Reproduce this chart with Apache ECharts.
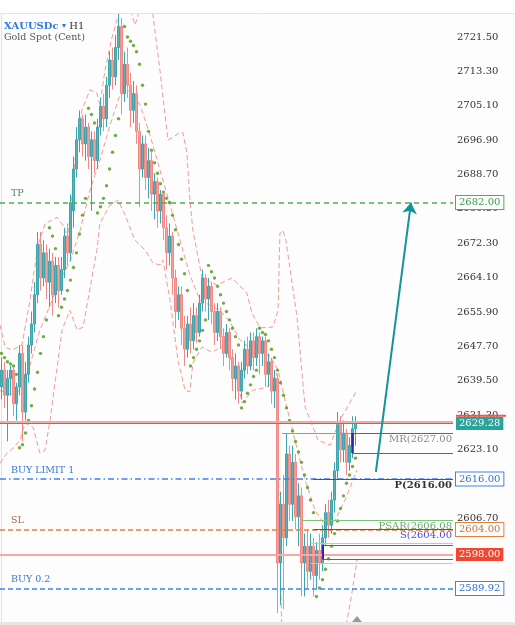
<!DOCTYPE html>
<html>
<head>
<meta charset="utf-8">
<script src="https://cdn.jsdelivr.net/npm/echarts@6/dist/echarts.min.js"></script>
<style>
  html, body { margin: 0; padding: 0; background: #fff; }
  #chart { width: 515px; height: 625px; }
</style>
</head>
<body>
<div id="chart"></div>
<script>
// XAUUSDc H1 candles, [open, close, low, high]
var candles = [
  [2638,2642,2635,2645],[2642,2636,2633,2644],[2636,2640,2625,2642],[2640,2642,2636,2643],
  [2642,2634,2631,2642.5],[2634,2638,2630,2639],[2638,2646,2636,2648],[2646,2632,2625,2648],
  [2632,2641,2630,2644],[2641,2648,2639,2650],[2648,2653,2646,2656],[2653,2660,2651,2663],
  [2660,2672,2658,2675],[2672,2664,2661,2675],[2664,2670,2662,2673],[2670,2663,2659,2672],
  [2663,2668,2657,2671],[2668,2660,2655,2670],[2660,2667,2658,2669],[2667,2661,2657,2669],
  [2661,2666,2660,2669],[2666,2674,2664,2676],[2674,2670,2667,2677],[2670,2682,2668,2684],
  [2680,2690,2676,2693],[2690,2697,2688,2700],[2697,2702,2694,2704],[2702,2696,2693,2703],
  [2696,2700,2692,2703],[2700,2693,2690,2701],[2693,2697,2680,2699],[2697,2692,2689,2699],
  [2692,2700,2690,2702],[2700,2705,2698,2707],[2705,2702,2699,2708],[2702,2710,2700,2712],
  [2710,2716,2707,2718],[2716,2712,2709,2719],[2712,2719,2710,2722],[2719,2724,2716,2727],
  [2724,2708,2703,2726],[2708,2715,2706,2718],[2715,2710,2707,2719],[2710,2704,2700,2713],
  [2704,2708,2701,2711],[2708,2699,2696,2710],[2699,2690,2681,2701],[2690,2696,2688,2698],
  [2696,2688,2685,2698],[2688,2692,2683,2695],[2692,2684,2680,2694],[2684,2687,2678,2689],
  [2687,2680,2676,2688],[2680,2684,2677,2685],[2684,2676,2673,2684],[2676,2670,2666,2679],
  [2670,2674,2667,2677],[2674,2664,2660,2675],[2664,2656,2652,2666],[2656,2660,2654,2662],
  [2660,2652,2648,2662],[2652,2647,2643,2655],[2647,2653,2645,2655],[2653,2649,2646,2657],
  [2649,2655,2647,2658],[2655,2651,2648.5,2657],[2651,2658,2650,2660],[2658,2664,2656,2666],
  [2664,2659,2656,2665],[2659,2662,2654,2664],[2662,2656,2653,2663],[2656,2651,2648,2658],
  [2651,2656,2649,2658],[2656,2650,2647,2657],[2650,2646,2643,2652],[2646,2651,2645,2653],
  [2651,2645,2642,2652],[2645,2640,2637,2647],[2640,2643,2635,2646],[2643,2637,2634,2644],
  [2637,2642,2635,2644],[2642,2647,2640,2649],[2647,2643,2641,2650],[2643,2649,2642,2651],
  [2649,2645,2642,2651],[2645,2650,2643,2652],[2650,2646,2641,2651],[2646,2649,2643,2650],
  [2649,2641,2638,2650],[2641,2644,2638,2646],[2644,2637,2634,2645],[2637,2640,2633,2642],
  [2640,2596,2584,2641],[2596,2610,2586,2613],[2610,2602,2585,2617],[2602,2622,2600,2627],
  [2622,2610,2606,2624],[2610,2620,2606,2624],[2620,2607,2604,2622],[2607,2612,2600,2615],
  [2612,2596,2588,2614],[2596,2600,2588,2603],[2600,2594,2590,2604],[2594,2600,2592,2603],
  [2600,2593,2588,2602],[2593,2599,2590,2601],[2599,2596,2592,2603],[2596,2602,2594,2605],
  [2602,2608,2600,2610],[2608,2605,2602,2611],[2605,2611,2603,2613],[2611,2618,2608,2620],
  [2618,2629,2616,2632],[2629,2623,2620,2631],[2623,2627,2620,2630],[2627,2620,2617,2628],
  [2620,2624,2618,2626],[2624,2628,2621,2631],[2628,2629.28,2624,2631]
];

// parabolic SAR, one dot per candle
var psar = [
  2646,2645,2644,2643.5,2643,2641,
  2623.5,2624.2,2627,2630,2633.5,2637.5,2641.5,2646,2650,2654,
  2676,2674,2671,
  2655,2657,2659,2661,2663.5,2666.5,2670,2674.5,2679,2683,
  2704.5,2703,2701,
  2679.5,2681,2683,2686,2690,2694,2698,2702,
  2727.2,2724,2721.5,2720.5,2719.5,2718,2715,2710,2705.5,2699,2694.5,2691.5,2689,2686.5,2684.5,2683,2682,2679,2675.5,2672,2668.5,2665,2661,
  2643,2645,2647,2649,2651.5,2654,
  2667,2665.5,2664,2662,2660,2658,2656,2654,2652,2650,2648,
  2633,2634.5,2636.5,2638.5,2640.5,2642,
  2652,2651,2650.5,2649,2647,2645,2642,2639,2636,2633,2630,2627.5,2625,2622.5,2620,2617,2614,2611,2608,
  2588,2590,2592,2594.5,2597,2600,2603,2606,2609,2612,2615,2617,2619,2621
];

// bollinger bands, [candle index, price]
var bandUpper = [
  [-0.5,2652.8],[1.2,2647.5],[3.5,2646.8],[6.8,2648.0],[9.5,2658.7],[12.2,2671.9],[14.5,2676.9],
  [18.5,2678.5],[20.5,2676.6],[22.2,2673.5],[24.5,2692.1],[26.8,2704.1],[29.5,2708.9],[31.8,2708.1],
  [32.8,2705.3],[34.5,2713.6],[36.8,2721.3],[38.8,2726.3],[40.8,2730.3],[42.2,2732.7],[43.5,2726.7],
  [44.5,2724.4],[45.5,2726.7],[46.8,2731.5],[49.5,2731.5],[50.5,2726.7],[52.8,2713.6],[55.5,2696.9],
  [57.8,2697.9],[59.5,2698.8],[60.5,2698.6],[61.8,2693.8],[62.8,2682.6],[63.8,2675.4],[66.8,2664.2],
  [71.8,2662.3],[76.8,2664.0],[81.8,2660.4],[83.5,2655.6],[86.2,2652.1],[90.5,2652.3],[92.2,2656.3],
  [92.8,2674.7],[93.8,2675.4],[94.8,2673.0],[98.5,2654.7],[101.2,2633.2],[105.5,2625.3],[109.5,2624.1],
  [112.8,2630.1],[118.5,2637.2]
];
var bandMid = [
  [-0.5,2637.2],[2.8,2636.1],[6.2,2637.2],[9.5,2643.2],[12.8,2651.6],[16.2,2657.5],[19.5,2663.5],
  [22.8,2667.8],[26.2,2675.4],[29.5,2685.0],[32.8,2692.1],[36.2,2700.5],[39.5,2707.7],[42.8,2708.9],
  [46.2,2705.3],[49.5,2698.1],[52.8,2689.8],[56.2,2681.4],[59.5,2673.0],[62.8,2664.7],[66.2,2658.7],
  [69.5,2657.5],[72.8,2656.3],[76.2,2653.5],[79.5,2649.2],[82.8,2647.3],[86.2,2646.3],[89.5,2645.4],
  [92.2,2642.0],[94.5,2634.9],[97.8,2625.3],[101.2,2615.8],[104.5,2608.6],[107.8,2605.0],
  [111.2,2606.2],[114.5,2611.0],[118.5,2618.2]
];
var bandLower = [
  [-0.5,2619.8],[1.8,2622.2],[3.8,2623.4],[6.2,2625.3],[7.8,2629.4],[10.5,2628.4],[12.8,2622.2],
  [14.5,2622.9],[16.2,2630.1],[17.2,2635.6],[20.2,2651.6],[22.8,2656.3],[25.2,2651.6],[27.2,2652.3],
  [31.8,2670.7],[32.8,2677.1],[36.2,2681.4],[38.8,2682.6],[41.2,2679.0],[44.5,2673.0],[47.8,2670.7],
  [50.5,2667.6],[52.8,2667.1],[53.8,2668.3],[56.2,2658.7],[58.8,2644.4],[61.2,2637.2],[62.8,2636.8],
  [63.8,2643.7],[66.8,2647.5],[70.2,2646.3],[74.5,2648.0],[77.8,2642.0],[80.2,2634.2],[83.8,2637.2],
  [88.5,2637.9],[91.8,2641.3],[92.5,2611.0],[93.5,2577.6],[113.5,2577.6],[115.2,2582.3],
  [116.8,2588.8],[118.5,2596.7]
];

var yTicks = [2721.5,2713.3,2705.1,2696.9,2688.7,2680.5,2672.3,2664.1,2655.9,2647.7,
              2639.5,2631.3,2623.1,2614.9,2606.7,2598.5,2590.3];

var lastBid = 2629.28, lastAsk = 2629.7;
var takeProfit = 2682.00, buyLimit = 2616.00, stopLoss = 2604.00, redLevel = 2598.00, buyOrder = 2589.92;
// pivot levels: [value, first candle index]
var pivotMR = [2627.00, 93.5], pivotP = [2616.00, 103.8], psarLevel = [2606.08, 100], pivotS = [2604.00, 104];
// zones: [top, bottom, first candle index]
var zoneUpper = [2627.0, 2622.2, 117], zoneLower = [2600.3, 2596.9, 107], zoneLowerPink = [2600.8, 2596.0, 103];
var arrowFrom = [124.8, 2617.7], arrowTo = [136.5, 2682.0];

var xMax = 150.5;
var FONT = 'DejaVu Serif';

var chart = echarts.init(document.getElementById('chart'));

function priceBox(value, line, box) {
  return {
    yAxis: value,
    lineStyle: line,
    label: Object.assign({
      show: true, position: 'end', distance: 3,
      formatter: value.toFixed(2),
      fontFamily: FONT, fontSize: 10, padding: [2, 3, 1, 3]
    }, box)
  };
}
function leftTag(value, text, color) {
  return {
    yAxis: value,
    lineStyle: { color: 'rgba(0,0,0,0)', width: 1, type: 'solid' },
    label: {
      show: true, position: 'insideStartTop', formatter: text, color: color,
      fontFamily: FONT, fontSize: 9.5, padding: [0, 0, 1, 8], distance: 3
    }
  };
}
function pivotLine(level, text, color, textColor, bold) {
  return [
    { coord: [level[1], level[0]],
      lineStyle: { color: color, width: 1, type: 'solid' },
      label: { show: true, position: 'insideEndBottom', formatter: text, color: textColor,
               fontFamily: FONT, fontSize: 10, fontWeight: bold ? 'bold' : 'normal', distance: 1 } },
    { coord: [xMax, level[0]] }
  ];
}
function hline(v, from, color, width) {
  return [{ coord: [from, v], lineStyle: { color: color, width: width, type: 'solid' } }, { coord: [xMax, v] }];
}
function band(data, name) {
  return {
    name: name, type: 'line', data: data, showSymbol: false, silent: true, z: 1,
    lineStyle: { color: '#f39a93', width: 1, type: [5, 3] }
  };
}

var option = {
  backgroundColor: '#fdfdfd',
  animation: false,
  grid: { left: 0, right: 62, top: 14, bottom: 3 },
  xAxis: {
    type: 'value', min: -0.5, max: xMax,
    axisLine: { show: false }, axisTick: { show: false }, axisLabel: { show: false }, splitLine: { show: false }
  },
  yAxis: {
    type: 'value', position: 'right', min: 2581.9, max: 2727.0, scale: true,
    axisLine: { show: true, lineStyle: { color: '#e2e2e2' } },
    axisTick: { show: false },
    splitLine: { show: false },
    axisLabel: {
      customValues: yTicks, margin: 4, color: '#333', fontFamily: FONT, fontSize: 10,
      formatter: function (v) { return v.toFixed(2); }
    }
  },
  series: [
    band(bandUpper, 'upper'),
    band(bandMid, 'mid'),
    band(bandLower, 'lower'),
    {
      name: 'XAUUSDc', type: 'candlestick', barWidth: 1.6, z: 3,
      data: candles.map(function (c, i) { return [i, c[0], c[1], c[2], c[3]]; }),
      encode: { x: 0, y: [1, 2, 3, 4] },
      itemStyle: { color: '#58b3b9', color0: '#f59e9a', borderColor: '#3fa4ab', borderColor0: '#f08a86', borderWidth: 1 }
    },
    {
      name: 'PSAR', type: 'scatter', symbol: 'circle', symbolSize: 3.4, z: 4, silent: true,
      data: psar.map(function (v, i) { return [i, v]; }),
      itemStyle: { color: '#4c9a10' }
    },
    {
      // trade levels with price boxes on the axis
      type: 'line', data: [], z: 5,
      markLine: {
        silent: true, symbol: 'none', animation: false,
        data: [
          priceBox(takeProfit, { color: '#4caf50', width: 1.5, type: [5, 4] },
            { color: '#3c9a4c', backgroundColor: '#fff', borderColor: '#4caf50', borderWidth: 1 }),
          priceBox(lastAsk, { color: '#f7aaa4', width: 2, type: 'solid' },
            { formatter: ' ', backgroundColor: '#f2564a', width: 44, height: 1, fontSize: 1, lineHeight: 1, padding: [1, 3, 0, 3], offset: [0, -6] }),
          priceBox(lastBid, { color: '#2aa39a', width: 1, type: 'solid' },
            { color: '#fff', backgroundColor: '#2aa39a' }),
          priceBox(buyLimit, { color: '#3b82f6', width: 1.5, type: [6, 3, 1.5, 3] },
            { color: '#2f6fd6', backgroundColor: '#fff', borderColor: '#3b82f6', borderWidth: 1 }),
          priceBox(stopLoss, { color: '#e8803a', width: 1.5, type: [5, 3] },
            { color: '#c4703c', backgroundColor: '#fff', borderColor: '#e8803a', borderWidth: 1 }),
          priceBox(redLevel, { color: '#f8aaa2', width: 2, type: 'solid' },
            { color: '#fff', backgroundColor: '#f4452f' }),
          priceBox(buyOrder, { color: '#3b82f6', width: 1.5, type: [5, 3] },
            { color: '#2f6fd6', backgroundColor: '#fff', borderColor: '#3b82f6', borderWidth: 1 }),
          leftTag(takeProfit, 'TP', '#4c8c5c'),
          leftTag(buyLimit, 'BUY LIMIT 1', '#3a78d8'),
          leftTag(stopLoss, 'SL', '#a4664c'),
          leftTag(buyOrder, 'BUY 0.2', '#3a78d8')
        ]
      }
    },
    {
      // pivot levels and zones on the right
      type: 'line', data: [], z: 5,
      markLine: {
        silent: true, symbol: 'none', animation: false,
        data: [
          pivotLine(pivotMR, 'MR(2627.00', '#9a9a9a', '#8a8a8a', false),
          pivotLine(pivotP, 'P(2616.00', '#555', '#333', true),
          pivotLine(psarLevel, 'PSAR(2606.08', '#7cc47c', '#6aa872', false),
          pivotLine(pivotS, 'S(2604.00', '#4b4bd6', '#4b4bd6', false),
          hline(zoneUpper[0], zoneUpper[2], '#5656dc', 1),
          hline(zoneUpper[1], zoneUpper[2], '#5656dc', 1),
          hline(zoneLowerPink[0], zoneLowerPink[2], '#f6b0aa', 1),
          hline(zoneLowerPink[1], zoneLowerPink[2], '#f6b0aa', 1),
          hline(zoneLower[0], zoneLower[2], '#5656dc', 1),
          hline(zoneLower[1], zoneLower[2], '#5656dc', 1),
          [{ coord: [zoneUpper[2], zoneUpper[0]], lineStyle: { color: '#2a2aa8', width: 2.5, type: 'solid' } },
           { coord: [zoneUpper[2], zoneUpper[1]] }],
          [{ coord: [zoneLower[2], zoneLower[0]], lineStyle: { color: '#2a2aa8', width: 2, type: 'solid' } },
           { coord: [zoneLower[2], zoneLower[1]] }]
        ]
      }
    },
    {
      name: 'target', type: 'lines', coordinateSystem: 'cartesian2d', z: 6, silent: true,
      symbol: ['none', 'arrow'], symbolSize: 11,
      lineStyle: { color: '#13939a', width: 2, opacity: 1 },
      data: [{ coords: [arrowFrom, arrowTo] }]
    }
  ],
  graphic: [
    { type: 'rect', shape: { x: 0, y: 0, width: 515, height: 13 }, style: { fill: '#ffffff' }, z: 10 },
    { type: 'line', shape: { x1: 0, y1: 13.5, x2: 515, y2: 13.5 }, style: { stroke: '#e4e4e4', lineWidth: 1 }, z: 10 },
    { type: 'rect', shape: { x: 0, y: 622, width: 515, height: 3 }, style: { fill: '#e6e6e6' }, z: 10 },
    { type: 'polygon', shape: { points: [[357, 616], [352, 622], [362, 622]] }, style: { fill: '#9a9a9a' }, z: 10 },
    {
      type: 'text', left: 4, top: 20, z: 10,
      style: {
        text: '{a|XAUUSDc} {b|▾} {c|H1}',
        rich: {
          a: { fontFamily: FONT, fontSize: 10, fontWeight: 'bold', fill: '#2f78e0' },
          b: { fontFamily: FONT, fontSize: 8, fill: '#2f78e0' },
          c: { fontFamily: FONT, fontSize: 10, fill: '#333' }
        }
      }
    },
    {
      type: 'text', left: 4, top: 33, z: 10,
      style: { text: 'Gold Spot (Cent)', fontFamily: FONT, fontSize: 9.5, fill: '#555' }
    }
  ]
};

chart.setOption(option);
</script>
</body>
</html>
